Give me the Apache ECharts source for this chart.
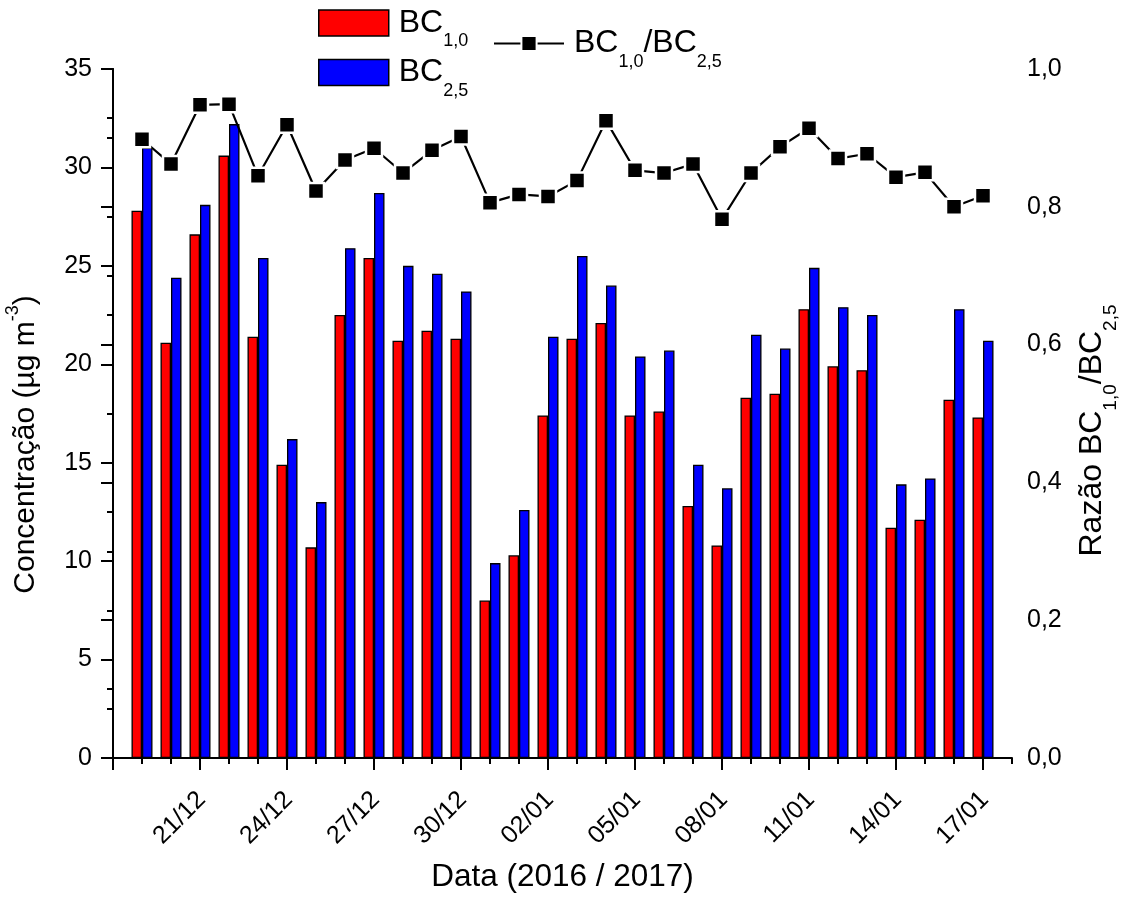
<!DOCTYPE html>
<html>
<head>
<meta charset="utf-8">
<script src="https://cdn.jsdelivr.net/npm/echarts@6/dist/echarts.min.js"></script>
<style>
  html, body { margin: 0; padding: 0; background: #ffffff; }
  #chart { width: 1125px; height: 897px; }
</style>
</head>
<body>
<div id="chart"></div>
<script>
// Datas de amostragem (dia/mês), de 19/12/2016 a 17/01/2017
const dias = ['19/12','20/12','21/12','22/12','23/12','24/12','25/12','26/12','27/12','28/12',
              '29/12','30/12','31/12','01/01','02/01','03/01','04/01','05/01','06/01','07/01',
              '08/01','09/01','10/01','11/01','12/01','13/01','14/01','15/01','16/01','17/01'];

// Concentração de BC na fração PM1,0 (µg m-3)
const bc10 = [27.8, 21.1, 26.6, 30.6, 21.4, 14.9, 10.7, 22.5, 25.4, 21.2,
              21.7, 21.3, 8.0, 10.3, 17.4, 21.3, 22.1, 17.4, 17.6, 12.8,
              10.8, 18.3, 18.5, 22.8, 19.9, 19.7, 11.7, 12.1, 18.2, 17.3];

// Concentração de BC na fração PM2,5 (µg m-3)
const bc25 = [31.0, 24.4, 28.1, 32.2, 25.4, 16.2, 13.0, 25.9, 28.7, 25.0,
              24.6, 23.7, 9.9, 12.6, 21.4, 25.5, 24.0, 20.4, 20.7, 14.9,
              13.7, 21.5, 20.8, 24.9, 22.9, 22.5, 13.9, 14.2, 22.8, 21.2];

// Razão BC1,0/BC2,5
const razao = [0.898, 0.862, 0.948, 0.949, 0.845, 0.919, 0.823, 0.868, 0.885, 0.849,
               0.882, 0.902, 0.806, 0.818, 0.815, 0.838, 0.925, 0.853, 0.849, 0.862,
               0.782, 0.849, 0.887, 0.914, 0.870, 0.877, 0.843, 0.850, 0.800, 0.816];

// Rótulos do eixo X (a cada 3 dias)
const rotulosX = ['21/12','24/12','27/12','30/12','02/01','05/01','08/01','11/01','14/01','17/01'];

// Eixo X em dias contados a partir de 18/12/2016
const diaInicial = 0;
const diaFinal = dias.length + 1;
const posicao = (i) => i + 1;

const FONTE = '"Liberation Sans", Arial, sans-serif';

const ticksMaiores = [];
const ticksMenores = [];
for (let d = diaInicial; d <= diaFinal; d++) {
  if (d % 3 === 0) ticksMaiores.push(d); else ticksMenores.push(d);
}
const posRotulos = rotulosX.map((_, k) => 3 * (k + 1));

const nomesLegenda = {
  'BC1,0': '{p|}{b|BC}{s|1,0}',
  'BC2,5': '{p|}{b|BC}{s|2,5}',
  'BC1,0/BC2,5': '{p|}{b|BC}{s|1,0}{b|/BC}{s|2,5}'
};

const richLegenda = {
  p: { width: 5 },
  b: { fontSize: 32, fontFamily: FONTE, color: '#000' },
  s: { fontSize: 18, fontFamily: FONTE, color: '#000', padding: [37, 0, 0, 0] }
};

const richEsq = {
  b: { fontSize: 30, fontFamily: FONTE, color: '#000' },
  sup: { fontSize: 18, fontFamily: FONTE, color: '#000', padding: [0, 0, 26, 0] }
};

const richDir = {
  b: { fontSize: 32, fontFamily: FONTE, color: '#000' },
  s: { fontSize: 19, fontFamily: FONTE, color: '#000', padding: [37, 0, 0, 0] }
};

const chart = echarts.init(document.getElementById('chart'), null, { renderer: 'canvas' });

chart.setOption({
  animation: false,
  backgroundColor: '#ffffff',
  grid: { left: 113, right: 113, top: 69, bottom: 139, containLabel: false, outerBoundsMode: 'none' },
  legend: [
    {
      data: ['BC1,0', 'BC2,5'],
      orient: 'vertical',
      left: 318, top: 7, padding: 0, itemGap: 6,
      itemWidth: 70, itemHeight: 26,
      icon: 'rect',
      selectedMode: false,
      itemStyle: { borderColor: '#000', borderWidth: 1.5 },
      formatter: (n) => nomesLegenda[n],
      textStyle: { rich: richLegenda }
    },
    {
      data: ['BC1,0/BC2,5'],
      left: 493, top: 27.5, padding: 0,
      itemWidth: 70, itemHeight: 19,
      selectedMode: false,
      formatter: (n) => nomesLegenda[n],
      textStyle: { rich: richLegenda }
    }
  ],
  xAxis: [
    {
      type: 'value', min: diaInicial, max: diaFinal, position: 'bottom',
      splitLine: { show: false },
      axisLine: { show: true, lineStyle: { color: '#000', width: 2 } },
      axisTick: { show: true, customValues: ticksMaiores, length: 12, lineStyle: { color: '#000', width: 2 } },
      axisLabel: {
        customValues: posRotulos, rotate: 45, margin: 22, verticalAlign: 'top',
        padding: [0, 10, 0, 0],
        fontSize: 25, fontFamily: FONTE, color: '#000',
        formatter: (v) => rotulosX[Math.round(v / 3) - 1] || ''
      },
      name: 'Data (2016 / 2017)', nameLocation: 'middle', nameGap: 103,
      nameTextStyle: { fontSize: 31.5, fontFamily: FONTE, color: '#000' }
    },
    {
      type: 'value', min: diaInicial, max: diaFinal, position: 'bottom', offset: 0,
      splitLine: { show: false },
      axisLine: { show: false },
      axisTick: { show: true, customValues: ticksMenores, length: 6, lineStyle: { color: '#000', width: 2 } },
      axisLabel: { show: false }
    }
  ],
  yAxis: [
    {
      type: 'value', min: 0, max: 35, interval: 5, position: 'left',
      splitLine: { show: false },
      axisLine: { show: true, lineStyle: { color: '#000', width: 2 } },
      axisTick: { show: true, length: 12, lineStyle: { color: '#000', width: 2 } },
      minorTick: { show: true, splitNumber: 2, length: 6, lineStyle: { color: '#000', width: 2 } },
      axisLabel: { margin: 21, fontSize: 25, fontFamily: FONTE, color: '#000' },
      name: '{b|Concentração (µg m}{sup|-3}{b|)}', nameLocation: 'middle', nameRotate: 90, nameGap: 65,
      nameTextStyle: { rich: richEsq, padding: [0, 62, 0, 0] }
    },
    {
      type: 'value', min: 0, max: 1, interval: 0.2, position: 'right',
      splitLine: { show: false },
      axisLine: { show: true, lineStyle: { color: '#000', width: 2 } },
      axisTick: { show: true, inside: true, length: 12, lineStyle: { color: '#000', width: 2 } },
      minorTick: { show: true, splitNumber: 2, length: 6, lineStyle: { color: '#000', width: 2 } },
      axisLabel: {
        margin: 15, fontSize: 25, fontFamily: FONTE, color: '#000',
        formatter: (v) => v.toFixed(1).replace('.', ',')
      },
      name: '{b|Razão BC}{s|1,0}{b|/BC}{s|2,5}', nameLocation: 'middle', nameRotate: 90, nameGap: 52,
      nameTextStyle: { rich: richDir, padding: [0, 34, 0, 0] }
    }
  ],
  series: [
    {
      name: 'BC1,0', type: 'bar', xAxisIndex: 0, yAxisIndex: 0,
      barWidth: 10.5, barGap: '0%',
      itemStyle: { color: '#ff0000', borderColor: '#000', borderWidth: 1.3 },
      data: dias.map((_, i) => [posicao(i), bc10[i]])
    },
    {
      name: 'BC2,5', type: 'bar', xAxisIndex: 0, yAxisIndex: 0,
      barWidth: 10.5, barGap: '0%',
      itemStyle: { color: '#0000ff', borderColor: '#000', borderWidth: 1.3 },
      data: dias.map((_, i) => [posicao(i), bc25[i]])
    },
    {
      name: 'BC1,0/BC2,5', type: 'line', xAxisIndex: 0, yAxisIndex: 1, z: 5,
      symbol: 'rect', symbolSize: 16,
      itemStyle: { color: '#000', borderColor: '#fff', borderWidth: 2.5 },
      lineStyle: { color: '#000', width: 2.2 },
      data: dias.map((_, i) => [posicao(i), razao[i]])
    }
  ]
});
</script>
</body>
</html>
